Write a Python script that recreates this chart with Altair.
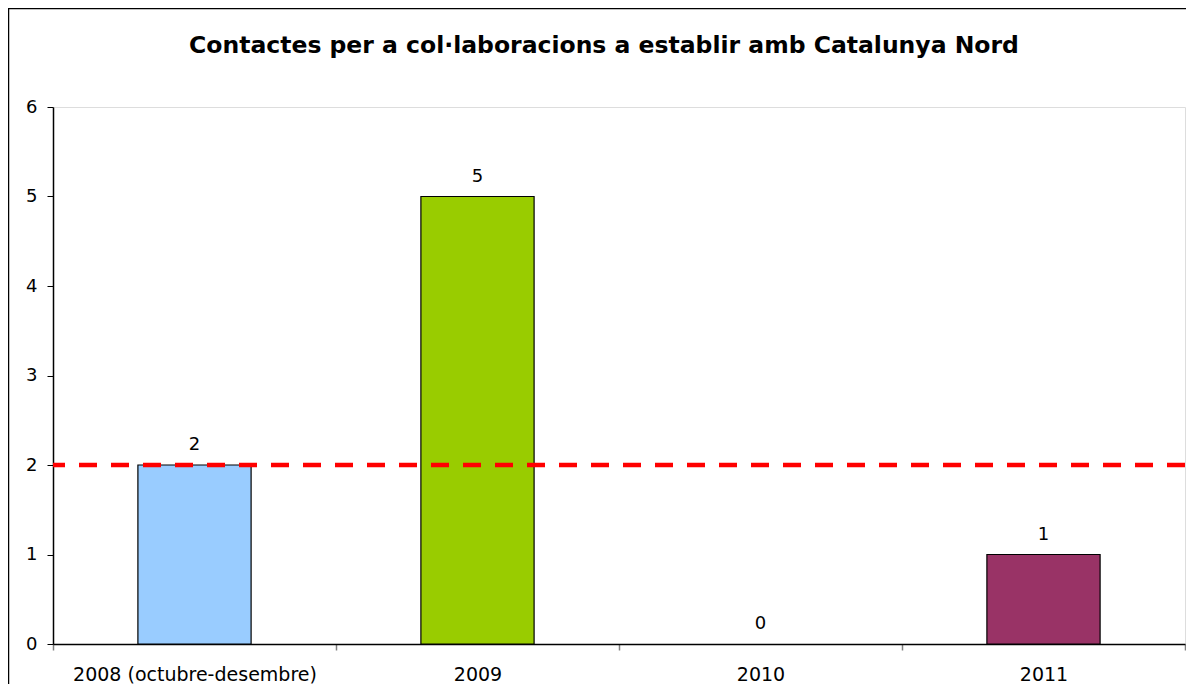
import altair as alt
import pandas as pd

categories = ["2008 (octubre-desembre)", "2009", "2010", "2011"]
values = [2, 5, 0, 1]
colors = ["#99CCFF", "#99CC00", "#FFFFFF", "#993366"]
reference_value = 2
title_text = "Contactes per a col·laboracions a establir amb Catalunya Nord"

df = pd.DataFrame({"cat": categories, "val": values, "col": colors})

FONT = "DejaVu Sans"

x_enc = alt.X("cat:N", sort=categories, title=None,
              scale=alt.Scale(paddingInner=0, paddingOuter=0),
              axis=alt.Axis(labelAngle=0, labelFont=FONT, labelFontSize=19,
                            labelColor="#000000", labelPadding=15, labelLimit=0,
                            domainColor="#000000", domainWidth=1.5,
                            tickColor="#808080", tickWidth=1.5, tickSize=6,
                            tickBand="extent", labelOverlap=False))
y_enc = alt.Y("val:Q", title=None,
              scale=alt.Scale(domain=[0, 6], nice=False),
              axis=alt.Axis(values=[0, 1, 2, 3, 4, 5, 6], format="d",
                            labelFont=FONT, labelFontSize=18, labelColor="#000000",
                            labelPadding=10, domainColor="#000000", domainWidth=1.5,
                            tickColor="#000000", tickWidth=1, tickSize=6, grid=False))

bars = alt.Chart(df).mark_bar(width=alt.RelativeBandSize(0.4), stroke="#000000",
                              strokeWidth=1.2).encode(
    x=x_enc, y=y_enc,
    fill=alt.Fill("col:N", scale=None),
    opacity=alt.condition(alt.datum.val > 0, alt.value(1), alt.value(0)),
)

labels = alt.Chart(df).mark_text(font=FONT, fontSize=18, dy=-20,
                                 baseline="middle", color="#000000").encode(
    x=alt.X("cat:N", sort=categories), y="val:Q", text="val:Q")

rule = alt.Chart(pd.DataFrame({"ref": [reference_value]})).mark_rule(
    color="#FF0000", strokeWidth=4.3, strokeDash=[18, 14]).encode(y="ref:Q")

# outer frame decoration (top and left edges of the picture)
frame_top = alt.Chart(pd.DataFrame({"k": [0]})).mark_rule(
    color="#000000", strokeWidth=2.5).encode(
    x=alt.value(-45), x2=alt.value(1133), y=alt.value(-99))
frame_left = alt.Chart(pd.DataFrame({"k": [0]})).mark_rule(
    color="#000000", strokeWidth=2.5).encode(
    x=alt.value(-45), y=alt.value(-99), y2=alt.value(640))

chart = alt.layer(bars, rule, labels, frame_top, frame_left).properties(
    width=1132, height=537,
    padding={"left": 45, "top": 99, "right": 1, "bottom": 40},
    autosize=alt.AutoSizeParams(type="none"),
    title=alt.TitleParams(title_text, font=FONT, fontSize=23.5, fontWeight="bold",
                          color="#000000", anchor="middle", offset=-70, dx=-15,
                          baseline="alphabetic"),
).configure_view(stroke="#808080", strokeWidth=1.5).configure(background="#FFFFFF")

chart.save("out.html", embed_options={"renderer": "svg", "actions": False})
